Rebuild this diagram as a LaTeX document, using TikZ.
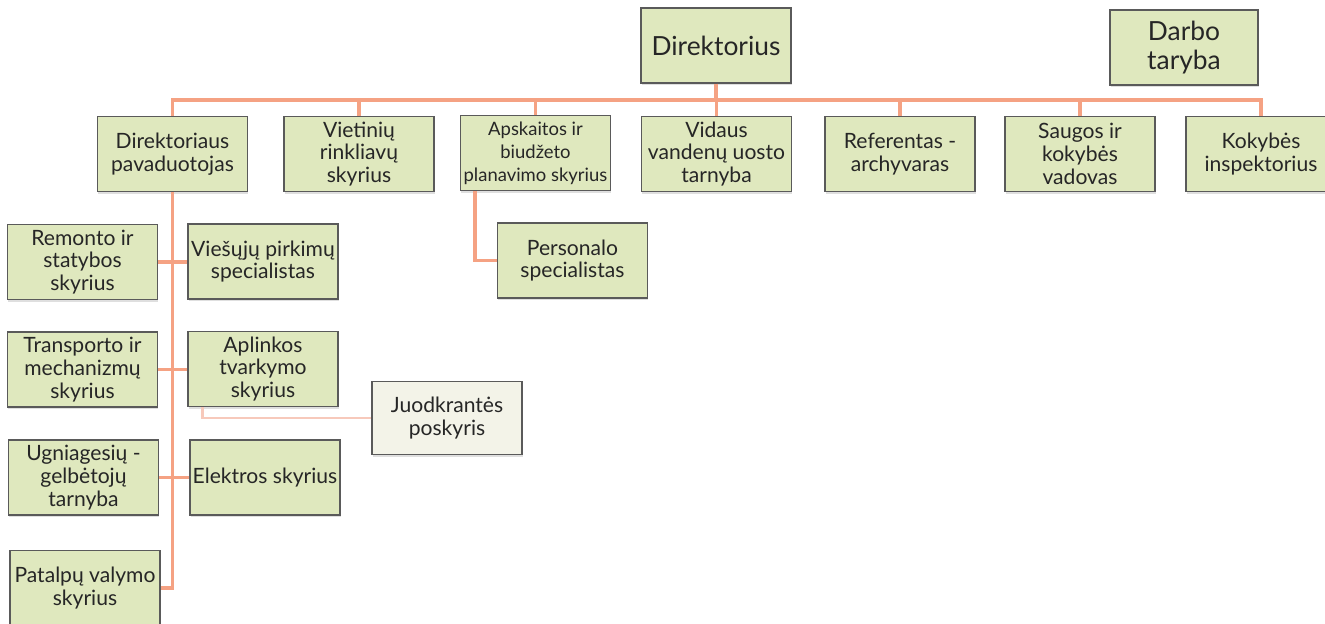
\documentclass[tikz,border=0pt]{standalone}
\usepackage{fontspec}
\setmainfont{Lato}
\usetikzlibrary{shadows}
\definecolor{boxgreen}{HTML}{DFE8BE}
\definecolor{boxpale}{HTML}{F3F3E8}
\definecolor{boxline}{HTML}{5A5A5A}
\definecolor{linksalmon}{HTML}{F5A283}
\definecolor{linkpale}{HTML}{F7C9BB}
\definecolor{textdark}{HTML}{262626}
\tikzset{
    unit/.style={draw=boxline, line width=0.6pt, fill=boxgreen, text=textdark,
        minimum width=3cm, minimum height=1.5cm, inner sep=1pt, align=center,
        font=\fontsize{12}{13}\selectfont,
        drop shadow={shadow xshift=0.4pt, shadow yshift=-1.2pt, opacity=0.25}},
    subunit/.style={unit, fill=boxpale},
    link/.style={draw=linksalmon, line width=2.2pt},
    sublink/.style={draw=linkpale, line width=1.3pt}
}
\begin{document}
\begin{tikzpicture}
    \useasboundingbox (0,0) rectangle (26.5,-12.46);
    % top
    \node[unit, font=\fontsize{15}{16.5}\selectfont] (dir) at (14.32,-0.91) {Direktorius};
    \node[unit, font=\fontsize{15}{16.5}\selectfont, minimum width=2.96cm] (darbo) at (23.68,-0.95) {Darbo\\taryba};
    % first row
    \foreach \name/\x/\lab in {pav/3.45/{Direktoriaus\\pavaduotojas}, vrs/7.18/{Vietinių\\rinkliavų\\skyrius},
        vid/14.33/{Vidaus\\vandenų uosto\\tarnyba}, ref/18.0/{Referentas -\\archyvaras},
        sau/21.6/{Saugos ir\\kokybės\\vadovas}, kok/25.22/{Kokybės\\inspektorius}} {
        \node[unit] (\name) at (\x,-3.08) {\lab};
    }
    \node[unit, font=\fontsize{10.5}{13}\selectfont] (aps) at (10.71,-3.06) {Apskaitos ir\\biudžeto\\planavimo skyrius};
    \coordinate (bus) at (0,-2.0);
    \draw[link] (pav.north) -- (pav.north |- bus) -- (kok.north |- bus) -- (kok.north);
    \foreach \name in {vrs,aps,vid,ref,sau} {
        \draw[link] (\name.north) -- (\name.north |- bus);
    }
    \draw[link] (dir.south) -- (dir.south |- bus);
    % under the deputy
    \node[unit] (rem) at (1.65,-5.24) {Remonto ir\\statybos\\skyrius};
    \node[unit] (ves) at (5.26,-5.23) {Viešųjų pirkimų\\specialistas};
    \node[unit] (tra) at (1.65,-7.39) {Transporto ir\\mechanizmų\\skyrius};
    \node[unit] (apl) at (5.26,-7.38) {Aplinkos\\tvarkymo\\skyrius};
    \node[unit] (ugn) at (1.67,-9.55) {Ugniagesių -\\gelbėtojų\\tarnyba};
    \node[unit] (ele) at (5.30,-9.55) {Elektros skyrius};
    \node[unit] (pat) at (1.70,-11.76) {Patalpų valymo\\skyrius};
    \node[subunit, minimum height=1.46cm] (juo) at (8.94,-8.36) {Juodkrantės\\poskyris};
    \draw[link] (pav.south) -- (pav.south |- pat.east) -- (pat.east);
    \foreach \a/\b in {rem/ves, tra/apl, ugn/ele} {
        \draw[link] (\a.east) -- (\a.east -| \b.west);
    }
    \draw[sublink] ([xshift=0.3cm]apl.south west) |- (juo.west);
    % under accounting
    \node[unit] (per) at (11.45,-5.21) {Personalo\\specialistas};
    \draw[link, line width=1.8pt] ([xshift=0.3cm]aps.south west) |- (per.west);
\end{tikzpicture}
\end{document}
